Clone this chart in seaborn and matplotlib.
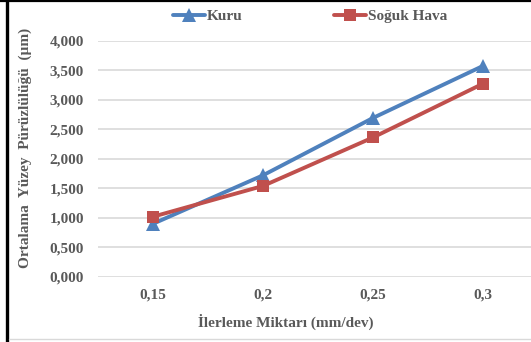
import matplotlib
matplotlib.use("Agg")
import matplotlib.pyplot as plt
from matplotlib.lines import Line2D
import seaborn as sns
import pandas as pd

# Feed rate categories (mm/dev) and mean surface roughness (µm)
feed_labels = ["0,15", "0,2", "0,25", "0,3"]
kuru = [0.90, 1.72, 2.69, 3.57]
soguk_hava = [1.02, 1.54, 2.36, 3.27]
y_ticks = [0.0, 0.5, 1.0, 1.5, 2.0, 2.5, 3.0, 3.5, 4.0]

df = pd.DataFrame({
    "feed": feed_labels * 2,
    "ra": kuru + soguk_hava,
    "cond": ["Kuru"] * 4 + ["Soğuk Hava"] * 4,
})

sns.set_theme(style="white")
plt.rcParams["font.family"] = ["Liberation Serif", "DejaVu Serif"]
plt.rcParams["font.weight"] = "bold"

text_col = "#595959"
grid_col = "#d9d9d9"
blue = "#4f81bd"
red = "#c0504d"
fs = 11

fig = plt.figure(figsize=(5.31, 3.42), dpi=100)
ax = fig.add_axes([98 / 531, 1 - 277 / 342, 440 / 531, (277 - 40.5) / 342])

sns.lineplot(data=df[df.cond == "Kuru"], x="feed", y="ra", ax=ax, color=blue,
             lw=2.8, marker="^", markersize=10.5, markeredgewidth=0,
             label="Kuru", sort=False)
sns.lineplot(data=df[df.cond == "Soğuk Hava"], x="feed", y="ra", ax=ax, color=red,
             lw=2.8, marker="s", markersize=9, markeredgewidth=0,
             label="Soğuk Hava", sort=False)

ax.set_xlim(-0.5, 3.5)
ax.set_ylim(0, 4)
ax.set_yticks(y_ticks)
ax.set_yticklabels([f"{v:.3f}".replace(".", ",") for v in y_ticks])
ax.yaxis.grid(True, color=grid_col, lw=1.2)
ax.set_axisbelow(True)
for s in ax.spines.values():
    s.set_visible(False)
ax.tick_params(axis="both", length=0, labelsize=fs, colors=text_col)
ax.tick_params(axis="y", pad=10)
ax.tick_params(axis="x", pad=8)
for t in ax.get_xticklabels() + ax.get_yticklabels():
    t.set_fontweight("bold")

ax.set_xlabel("İlerleme Miktarı (mm/dev)", fontsize=fs, fontweight="bold",
              color=text_col)
ax.xaxis.set_label_coords((286 - 98) / 440, -(322 - 277) / (277 - 40.5))
ax.xaxis.label.set_verticalalignment("center")
ax.set_ylabel("Ortalama  Yüzey  Pürüzlülüğü  (µm)", fontsize=fs, fontweight="bold",
              color=text_col)
ax.yaxis.set_label_coords(-(98 - 25) / 440, (277 - 148) / (277 - 40.5))
ax.yaxis.label.set_verticalalignment("center")

leg = ax.legend(loc="center", bbox_to_anchor=(310 / 531, 1 - 16 / 342),
                bbox_transform=fig.transFigure, ncol=2, frameon=False,
                fontsize=fs, handlelength=2.1, handletextpad=0.1,
                columnspacing=6.0, borderaxespad=0, borderpad=0)
for t in leg.get_texts():
    t.set_color(text_col)
    t.set_fontweight("bold")

# Frame edges around the chart area
fig.add_artist(Line2D([6.5 / 531, 6.5 / 531], [0, 1], transform=fig.transFigure,
                      color="black", lw=2.4))
fig.add_artist(Line2D([0, 1], [1 - 1 / 342, 1 - 1 / 342], transform=fig.transFigure,
                      color="black", lw=1.6))
fig.add_artist(Line2D([9 / 531, 1], [1 - 338.5 / 342, 1 - 338.5 / 342],
                      transform=fig.transFigure, color=grid_col, lw=1))

fig.savefig("out.png", dpi=100)
